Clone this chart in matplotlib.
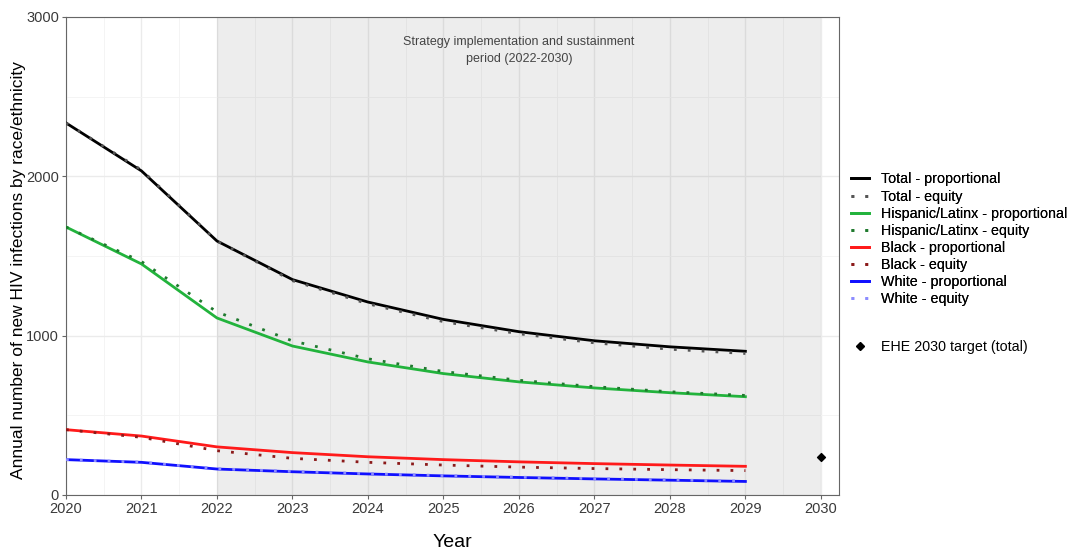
import matplotlib
matplotlib.use("Agg")
import matplotlib.pyplot as plt
from matplotlib.lines import Line2D

plt.rcParams["font.family"] = ["Liberation Sans", "DejaVu Sans"]

# ── 数据 ──────────────────────────────────────────────
years = [2020, 2021, 2022, 2023, 2024, 2025, 2026, 2027, 2028, 2029]

total_prop = [2335, 2034, 1594, 1352, 1211, 1102, 1025, 968, 930, 902]
total_eq = [2335, 2040, 1594, 1345, 1200, 1088, 1012, 955, 915, 888]
hisp_prop = [1682, 1450, 1111, 935, 835, 762, 710, 672, 642, 617]
hisp_eq = [1682, 1465, 1149, 967, 855, 775, 720, 680, 648, 625]
black_prop = [410, 370, 302, 266, 240, 222, 208, 197, 188, 180]
black_eq = [410, 362, 278, 230, 205, 188, 175, 166, 159, 153]
white_prop = [222, 205, 163, 146, 132, 120, 110, 101, 93, 85]
white_eq = [222, 206, 165, 148, 134, 122, 112, 103, 95, 87]

target_year = 2030
target_value = 240

series = [
    ("Total - proportional", total_prop, "#000000", "-"),
    ("Total - equity", total_eq, "#555555", ":"),
    ("Hispanic/Latinx - proportional", hisp_prop, "#22B33C", "-"),
    ("Hispanic/Latinx - equity", hisp_eq, "#1F7A2E", ":"),
    ("Black - proportional", black_prop, "#FF1A1A", "-"),
    ("Black - equity", black_eq, "#8B1A1A", ":"),
    ("White - proportional", white_prop, "#1010FF", "-"),
    ("White - equity", white_eq, "#8C8CFF", ":"),
]

# ── 绘图 ──────────────────────────────────────────────
fig = plt.figure(figsize=(10.79, 5.52), dpi=100)
ax = fig.add_axes([66 / 1079, 1 - 495 / 552, (839 - 66) / 1079, (495 - 17) / 552])

ax.set_xlim(2020, 2030.24)
ax.set_ylim(0, 3000)
ax.set_xticks(range(2020, 2031))
ax.set_xticks([y + 0.5 for y in range(2020, 2030)], minor=True)
ax.set_yticks([0, 1000, 2000, 3000])
ax.set_yticks([500, 1500, 2500], minor=True)
ax.grid(True, which="major", color="#EBEBEB", lw=1.0, zorder=0)
ax.grid(True, which="minor", color="#F3F3F3", lw=0.6, zorder=0)
ax.set_axisbelow(True)

ax.axvspan(2022, 2030, color="grey", alpha=0.14, lw=0, zorder=1)
ax.text(2026, 2880, "Strategy implementation and sustainment\nperiod (2022-2030)",
        ha="center", va="top", fontsize=9, color="#444444", linespacing=1.5)

handles = []
for label, vals, c, ls in series:
    if ls == "-":
        ax.plot(years, vals, color=c, lw=2.0, zorder=3)
        handles.append(Line2D([], [], color=c, lw=2.0, label=label))
    else:
        ax.plot(years, vals, color=c, lw=2.0, ls=(0, (1, 4)), zorder=4)
        handles.append(Line2D([], [], color=c, lw=2.0, ls=(0, (1, 4)), label=label))

ax.scatter([target_year], [target_value], marker="D", s=16, color="black", zorder=5)

for sp in ax.spines.values():
    sp.set_color("#666666")
    sp.set_linewidth(0.8)
ax.tick_params(which="major", length=3, pad=2, color="#666666", labelsize=10.5, labelcolor="#3A3A3A")
ax.tick_params(which="minor", length=0)

ax.set_xlabel("Year", fontsize=14)
ax.xaxis.set_label_coords(0.5, -0.1, transform=ax.transAxes)
ax.xaxis.label.set_verticalalignment("center")
ax.set_ylabel("Annual number of new HIV infections by race/ethnicity", fontsize=12.5)
ax.yaxis.set_label_coords(-0.062, 0.47)
ax.yaxis.label.set_verticalalignment("center")

leg1 = fig.legend(handles=handles, loc="upper left", bbox_to_anchor=(0.783, 0.698),
                  frameon=False, fontsize=10.3, handlelength=1.3, labelspacing=0.22,
                  handletextpad=0.8, borderaxespad=0)
fig.add_artist(leg1)
tgt = Line2D([], [], ls="none", marker="D", ms=4, color="black", label="EHE 2030 target (total)")
fig.legend(handles=[tgt], loc="upper left", bbox_to_anchor=(0.783, 0.395),
           frameon=False, fontsize=10.3, handlelength=1.3, handletextpad=0.8, borderaxespad=0)

plt.savefig("out.png", dpi=100)
